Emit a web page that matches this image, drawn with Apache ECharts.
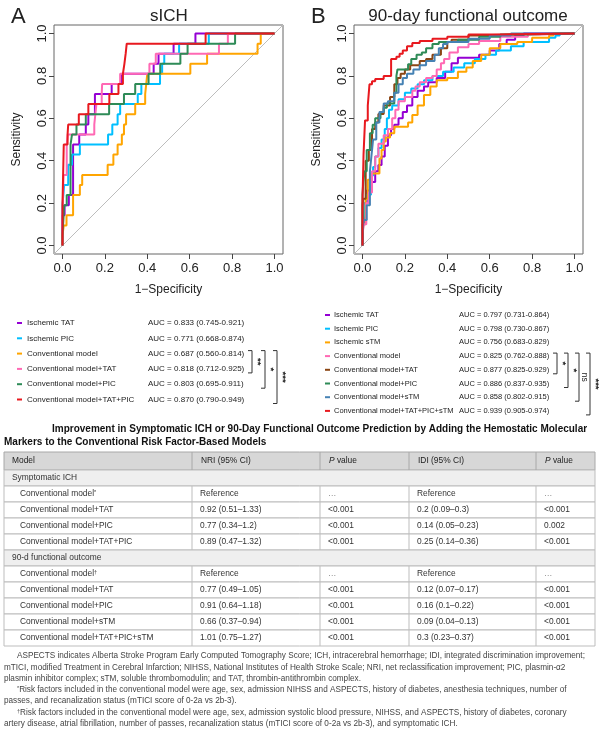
<!DOCTYPE html>
<html><head><meta charset="utf-8">
<script src="https://cdn.jsdelivr.net/npm/echarts@6/dist/echarts.min.js"></script>
<style>html,body{margin:0;padding:0;background:#fff}#c{width:600px;height:729px}</style>
</head><body><div id="c"></div>
<script>
// ---------------- data ----------------
const tickValues = [0, 0.2, 0.4, 0.6, 0.8, 1.0];
const axisMin = -0.04, axisMax = 1.04;

// Panel A (sICH) : ROC points [1-specificity where level ends, sensitivity level]
const aNames = ['Ischemic TAT', 'Ischemic PIC', 'Conventional model', 'Conventional model+TAT', 'Conventional model+PIC', 'Conventional model+TAT+PIC'];
const aAUC = ['AUC = 0.833 (0.745-0.921)', 'AUC = 0.771 (0.668-0.874)', 'AUC = 0.687 (0.560-0.814)', 'AUC = 0.818 (0.712-0.925)', 'AUC = 0.803 (0.695-0.911)', 'AUC = 0.870 (0.790-0.949)'];
const aColors = ['#9400D3', '#00BFFF', '#FFA500', '#FF69B4', '#2E8B57', '#E8191F'];
const aIschemicTAT = [[0,0],[0.01,0.143],[0.03,0.19],[0.05,0.238],[0.079,0.476],[0.11,0.524],[0.122,0.571],[0.153,0.619],[0.232,0.714],[0.28,0.762],[0.43,0.81],[0.453,0.857],[0.524,0.905],[0.627,0.952],[1,1]];
const aIschemicPIC = [[0,0],[0.008,0.19],[0.027,0.286],[0.045,0.381],[0.082,0.429],[0.215,0.476],[0.235,0.524],[0.26,0.571],[0.272,0.619],[0.355,0.667],[0.372,0.714],[0.46,0.762],[0.47,0.81],[0.48,0.857],[0.55,0.905],[0.69,0.952],[1,1]];
const aConv = [[0,0],[0.006,0.048],[0.019,0.095],[0.05,0.143],[0.082,0.238],[0.093,0.286],[0.213,0.333],[0.24,0.381],[0.26,0.429],[0.28,0.476],[0.29,0.524],[0.3,0.571],[0.343,0.619],[0.39,0.667],[0.395,0.714],[0.4,0.762],[0.603,0.81],[0.682,0.857],[0.92,0.905],[0.935,0.952],[1,1]];
const aConvTAT = [[0,0],[0.005,0.143],[0.02,0.333],[0.025,0.476],[0.15,0.524],[0.155,0.571],[0.16,0.619],[0.185,0.667],[0.187,0.714],[0.272,0.762],[0.41,0.81],[0.44,0.857],[0.738,0.905],[0.78,0.952],[1,1]];
const aConvPIC = [[0,0],[0.008,0.048],[0.02,0.19],[0.038,0.238],[0.045,0.476],[0.066,0.524],[0.11,0.571],[0.22,0.619],[0.29,0.667],[0.343,0.714],[0.406,0.762],[0.461,0.81],[0.556,0.857],[0.59,0.905],[0.814,0.952],[1,1]];
const aConvTATPIC = [[0,0],[0.006,0.19],[0.024,0.476],[0.027,0.524],[0.077,0.571],[0.122,0.619],[0.221,0.667],[0.264,0.714],[0.285,0.762],[0.292,0.81],[0.298,0.857],[0.303,0.905],[0.675,0.952],[1,1]];
const aCurves = [aIschemicTAT, aIschemicPIC, aConv, aConvTAT, aConvPIC, aConvTATPIC];

// Panel B (90-day functional outcome)
const bNames = ['Ischemic TAT', 'Ischemic PIC', 'Ischemic sTM', 'Conventional model', 'Conventional model+TAT', 'Conventional model+PIC', 'Conventional model+sTM', 'Conventional model+TAT+PIC+sTM'];
const bAUC = ['AUC = 0.797 (0.731-0.864)', 'AUC = 0.798 (0.730-0.867)', 'AUC = 0.756 (0.683-0.829)', 'AUC = 0.825 (0.762-0.888)', 'AUC = 0.877 (0.825-0.929)', 'AUC = 0.886 (0.837-0.935)', 'AUC = 0.858 (0.802-0.915)', 'AUC = 0.939 (0.905-0.974)'];
const bColors = ['#9400D3', '#00BFFF', '#FFA500', '#FF69B4', '#8B4513', '#2E8B57', '#4682B4', '#E8191F'];
const bIschemicTAT = [[0,0],[0.01,0.1],[0.02,0.2],[0.035,0.26],[0.06,0.3],[0.075,0.35],[0.09,0.38],[0.105,0.42],[0.12,0.47],[0.135,0.52],[0.15,0.55],[0.17,0.57],[0.19,0.6],[0.21,0.63],[0.235,0.66],[0.26,0.7],[0.29,0.73],[0.31,0.75],[0.35,0.77],[0.39,0.79],[0.42,0.82],[0.45,0.86],[0.55,0.885],[0.6,0.9],[0.645,0.92],[0.68,0.95],[0.72,0.97],[0.76,0.99],[1,1]];
const bIschemicPIC = [[0,0],[0.005,0.05],[0.012,0.12],[0.02,0.19],[0.04,0.24],[0.05,0.33],[0.06,0.37],[0.075,0.42],[0.09,0.46],[0.105,0.5],[0.115,0.55],[0.125,0.6],[0.14,0.64],[0.17,0.66],[0.2,0.69],[0.23,0.72],[0.26,0.74],[0.29,0.76],[0.33,0.78],[0.38,0.8],[0.43,0.82],[0.48,0.84],[0.53,0.86],[0.58,0.88],[0.63,0.9],[0.7,0.92],[0.76,0.94],[0.88,0.96],[0.91,0.98],[0.93,0.99],[1,1]];
const bIschemicSTM = [[0,0],[0.004,0.04],[0.015,0.1],[0.025,0.22],[0.04,0.31],[0.08,0.34],[0.09,0.41],[0.1,0.45],[0.11,0.49],[0.13,0.51],[0.15,0.53],[0.215,0.56],[0.235,0.58],[0.26,0.615],[0.29,0.66],[0.32,0.71],[0.35,0.75],[0.4,0.78],[0.45,0.79],[0.49,0.82],[0.52,0.84],[0.56,0.87],[0.6,0.9],[0.65,0.93],[0.73,0.95],[0.8,0.96],[0.88,0.98],[0.9,0.99],[1,1]];
const bConv = [[0,0],[0.006,0.05],[0.018,0.1],[0.03,0.2],[0.045,0.25],[0.06,0.35],[0.075,0.42],[0.1,0.48],[0.12,0.52],[0.14,0.55],[0.155,0.6],[0.17,0.64],[0.2,0.68],[0.235,0.7],[0.25,0.73],[0.27,0.75],[0.3,0.77],[0.33,0.79],[0.35,0.8],[0.37,0.83],[0.385,0.86],[0.41,0.88],[0.45,0.91],[0.5,0.935],[0.55,0.95],[0.65,0.965],[0.78,0.985],[0.83,0.995],[1,1]];
const bConvTAT = [[0,0],[0.004,0.19],[0.015,0.22],[0.03,0.4],[0.045,0.45],[0.06,0.55],[0.075,0.58],[0.1,0.62],[0.13,0.66],[0.15,0.7],[0.165,0.76],[0.18,0.79],[0.2,0.81],[0.225,0.83],[0.27,0.85],[0.3,0.87],[0.33,0.88],[0.37,0.9],[0.4,0.93],[0.42,0.96],[0.5,0.97],[0.62,0.99],[0.7,0.995],[1,1]];
const bConvPIC = [[0,0],[0.004,0.24],[0.01,0.3],[0.02,0.35],[0.035,0.45],[0.048,0.53],[0.06,0.57],[0.085,0.6],[0.1,0.63],[0.115,0.65],[0.15,0.67],[0.16,0.72],[0.165,0.8],[0.215,0.83],[0.23,0.855],[0.255,0.88],[0.28,0.9],[0.3,0.91],[0.33,0.93],[0.36,0.95],[0.45,0.96],[0.55,0.97],[0.65,0.985],[0.75,0.995],[1,1]];
const bConvSTM = [[0,0],[0.005,0.06],[0.02,0.12],[0.035,0.19],[0.042,0.35],[0.05,0.42],[0.065,0.5],[0.08,0.58],[0.1,0.63],[0.12,0.67],[0.15,0.68],[0.17,0.72],[0.19,0.76],[0.21,0.79],[0.24,0.81],[0.27,0.83],[0.3,0.85],[0.34,0.87],[0.36,0.9],[0.38,0.93],[0.4,0.95],[0.5,0.96],[0.6,0.975],[0.7,0.99],[1,1]];
const bConvAll = [[0,0],[0.005,0.21],[0.012,0.43],[0.025,0.59],[0.033,0.66],[0.045,0.76],[0.06,0.775],[0.1,0.785],[0.135,0.8],[0.16,0.88],[0.175,0.89],[0.19,0.905],[0.21,0.92],[0.235,0.94],[0.27,0.955],[0.33,0.965],[0.4,0.975],[0.5,0.985],[0.61,0.995],[1,1]];
const bCurves = [bIschemicTAT, bIschemicPIC, bIschemicSTM, bConv, bConvTAT, bConvPIC, bConvSTM, bConvAll];

// significance brackets: [from row, to row, label]
const aBrackets = [[2, 3, '**'], [2, 4, '*'], [2, 5, '***']];
const bBrackets = [[3, 4, '*'], [3, 5, '*'], [3, 6, 'ns'], [3, 7, '***']];

// table
const tableTitle1 = 'Improvement in Symptomatic ICH or 90-Day Functional Outcome Prediction by Adding the Hemostatic Molecular';
const tableTitle2 = 'Markers to the Conventional Risk Factor-Based Models';
const tableHeader = ['Model', 'NRI (95% CI)', '{i|P}{n| value}', 'IDI (95% CI)', '{i|P}{n| value}'];
const tableRows = [
  ['section', 'Symptomatic ICH'],
  ['row', 'Conventional model{s|*}', 'Reference', '...', 'Reference', '...'],
  ['row', 'Conventional model+TAT', '0.92 (0.51–1.33)', '<0.001', '0.2 (0.09–0.3)', '<0.001'],
  ['row', 'Conventional model+PIC', '0.77 (0.34–1.2)', '<0.001', '0.14 (0.05–0.23)', '0.002'],
  ['row', 'Conventional model+TAT+PIC', '0.89 (0.47–1.32)', '<0.001', '0.25 (0.14–0.36)', '<0.001'],
  ['section', '90-d functional outcome'],
  ['row', 'Conventional model{s|†}', 'Reference', '...', 'Reference', '...'],
  ['row', 'Conventional model+TAT', '0.77 (0.49–1.05)', '<0.001', '0.12 (0.07–0.17)', '<0.001'],
  ['row', 'Conventional model+PIC', '0.91 (0.64–1.18)', '<0.001', '0.16 (0.1–0.22)', '<0.001'],
  ['row', 'Conventional model+sTM', '0.66 (0.37–0.94)', '<0.001', '0.09 (0.04–0.13)', '<0.001'],
  ['row', 'Conventional model+TAT+PIC+sTM', '1.01 (0.75–1.27)', '<0.001', '0.3 (0.23–0.37)', '<0.001']
];
const footLines = [
  [1, 'ASPECTS indicates Alberta Stroke Program Early Computed Tomography Score; ICH, intracerebral hemorrhage; IDI, integrated discrimination improvement;'],
  [0, 'mTICI, modified Treatment in Cerebral Infarction; NIHSS, National Institutes of Health Stroke Scale; NRI, net reclassification improvement; PIC, plasmin-α2'],
  [0, 'plasmin inhibitor complex; sTM, soluble thrombomodulin; and TAT, thrombin-antithrombin complex.'],
  [1, '{s|*}Risk factors included in the conventional model were age, sex, admission NIHSS and ASPECTS, history of diabetes, anesthesia techniques, number of'],
  [0, 'passes, and recanalization status (mTICI score of 0-2a vs 2b-3).'],
  [1, '{s|†}Risk factors included in the conventional model were age, sex, admission systolic blood pressure, NIHSS, and ASPECTS, history of diabetes, coronary'],
  [0, 'artery disease, atrial fibrillation, number of passes, recanalization status (mTICI score of 0-2a vs 2b-3), and symptomatic ICH.']
];

// ---------------- layout / style ----------------
const FF = '"Liberation Sans", Arial, Helvetica, sans-serif';
const grids = [{left: 54, top: 25, width: 229, height: 229}, {left: 354, top: 25, width: 229, height: 229}];

function xAx(i) {
  return {
    type: 'value', gridIndex: i, min: axisMin, max: axisMax, position: 'bottom',
    axisLine: {show: false, onZero: false},
    axisTick: {show: true, inside: false, customValues: tickValues, length: 5, lineStyle: {color: '#444', width: 1}},
    axisLabel: {customValues: tickValues, formatter: v => v.toFixed(1), fontSize: 13, color: '#222', margin: 8, fontFamily: FF},
    splitLine: {show: false},
    name: '1−Specificity', nameLocation: 'middle', nameGap: 30,
    nameTextStyle: {fontSize: 12, color: '#222', fontFamily: FF}
  };
}
function yAx(i) {
  return {
    type: 'value', gridIndex: i, min: axisMin, max: axisMax, position: 'left',
    axisLine: {show: false, onZero: false},
    axisTick: {show: true, inside: false, customValues: tickValues, length: 5, lineStyle: {color: '#444', width: 1}},
    axisLabel: {customValues: tickValues, formatter: v => v.toFixed(1), fontSize: 13, color: '#222', margin: 5, rotate: 90, fontFamily: FF},
    splitLine: {show: false},
    name: 'Sensitivity', nameLocation: 'middle', nameGap: 31,
    nameTextStyle: {fontSize: 12, color: '#222', fontFamily: FF}
  };
}

const series = [];
[0, 1].forEach(g => {
  series.push({
    type: 'line', xAxisIndex: g, yAxisIndex: g, data: [[axisMin, axisMin], [axisMax, axisMax]],
    showSymbol: false, symbol: 'none', silent: true, lineStyle: {color: '#bdbdbd', width: 1}, z: 1
  });
});
aCurves.forEach((d, i) => series.push({
  type: 'line', xAxisIndex: 0, yAxisIndex: 0, data: d, step: 'start', symbol: 'none', showSymbol: false,
  silent: true, lineStyle: {color: aColors[i], width: 2}, z: 2 + i
}));
bCurves.forEach((d, i) => series.push({
  type: 'line', xAxisIndex: 1, yAxisIndex: 1, data: d, step: 'start', symbol: 'none', showSymbol: false,
  silent: true, lineStyle: {color: bColors[i], width: 2}, z: 2 + i
}));

const G = [];
function txt(x, y, text, o) {
  o = o || {};
  const el = {type: 'text', x: x, y: y, silent: true, z: 10,
    style: {text: text, fill: o.fill || '#222', fontSize: o.size || 8, fontFamily: FF, fontWeight: o.weight || 'normal',
      align: o.align || 'left', verticalAlign: o.valign || 'middle'}};
  if (o.rich) el.style.rich = o.rich;
  if (o.rotation) el.rotation = o.rotation;
  G.push(el);
}
function line(pts, color, w) {
  G.push({type: 'polyline', silent: true, z: 10, shape: {points: pts}, style: {stroke: color, lineWidth: w || 1, fill: null}});
}
function rect(x, y, w, h, fill, stroke) {
  G.push({type: 'rect', silent: true, z: 5, shape: {x: x, y: y, width: w, height: h}, style: {fill: fill, stroke: stroke || null, lineWidth: 1}});
}

// panel titles and letters
txt(11, 17, 'A', {size: 22});
txt(311, 17, 'B', {size: 22});
txt(169, 16, 'sICH', {size: 17, align: 'center'});
txt(468, 16, '90-day functional outcome', {size: 17, align: 'center'});

// legends
function legend(names, aucs, colors, brackets, o) {
  names.forEach((n, i) => {
    const y = o.y0 + i * o.dy;
    line([[o.dashX, y], [o.dashX + 5, y]], colors[i], 2);
    txt(o.textX, y, n, {size: o.size});
    txt(o.aucX, y, aucs[i], {size: o.size});
  });
  brackets.forEach((b, k) => {
    const y1 = o.y0 + b[0] * o.dy - 3, y2 = o.y0 + b[1] * o.dy + 4, x = o.bx[k];
    line([[x - 4, y1], [x, y1], [x, y2], [x - 4, y2]], '#333', 1);
    txt(x + 5.5, (y1 + y2) / 2, b[2], {size: b[2] === 'ns' ? 8.5 : 9.5, align: 'center', rotation: -Math.PI / 2, weight: b[2] === 'ns' ? 'normal' : 'bold'});
  });
}
legend(aNames, aAUC, aColors, aBrackets, {y0: 323, dy: 15.3, dashX: 17, textX: 27, aucX: 148, size: 8.0, bx: [252, 265, 277]});
legend(bNames, bAUC, bColors, bBrackets, {y0: 315, dy: 13.7, dashX: 325, textX: 334, aucX: 459, size: 7.5, bx: [557, 568, 579, 590]});

// table title
txt(52, 429, tableTitle1, {size: 10, weight: 'bold', fill: '#111'});
txt(4, 442, tableTitle2, {size: 10, weight: 'bold', fill: '#111'});

// table
const colX = [4, 192, 320, 409, 536, 595];
const tTop = 452, hH = 18, rH = 16;
const tSize = 8.4;
const richT = {i: {fontStyle: 'italic', fontSize: tSize, fontFamily: FF, fill: '#222'}, n: {fontSize: tSize, fontFamily: FF, fill: '#222'}, s: {fontSize: 5.5, fontFamily: FF, fill: '#333', verticalAlign: 'top', padding: [0, 0, 4, 0]}};
rect(colX[0], tTop, colX[5] - colX[0], hH, '#d7d7d7', '#a8a8a8');
tableHeader.forEach((h, c) => {
  if (c > 0) line([[colX[c], tTop], [colX[c], tTop + hH]], '#a8a8a8', 1);
  txt(colX[c] + (c === 0 ? 8 : 9), tTop + hH / 2, h, {size: tSize, rich: richT});
});
tableRows.forEach((r, i) => {
  const y = tTop + hH + i * rH;
  if (r[0] === 'section') {
    rect(colX[0], y, colX[5] - colX[0], rH, '#efefef', '#bdbdbd');
    txt(colX[0] + 8, y + rH / 2, r[1], {size: tSize, fill: '#333'});
  } else {
    rect(colX[0], y, colX[5] - colX[0], rH, '#ffffff', '#bdbdbd');
    for (let c = 1; c < 5; c++) line([[colX[c], y], [colX[c], y + rH]], '#bdbdbd', 1);
    for (let c = 0; c < 5; c++) {
      const t = r[c + 1];
      const ell = t === '...';
      txt(colX[c] + (c === 0 ? 16 : 8), y + rH / 2, ell ? '…' : t, {size: tSize, fill: ell ? '#888' : '#333', rich: c === 0 ? richT : null});
    }
  }
});

// footnotes
const fTop = tTop + hH + tableRows.length * rH + 10;
const richF = {s: {fontSize: 5.5, fontFamily: FF, fill: '#444', verticalAlign: 'top', padding: [0, 0, 3, 0]}};
footLines.forEach((f, i) => {
  txt(f[0] ? 17 : 4, fTop + i * 11.3, f[1], {size: 8.2, fill: '#444', rich: richF});
});

const option = {
  animation: false,
  backgroundColor: '#ffffff',
  grid: grids.map(g => Object.assign({show: true, borderColor: '#666', borderWidth: 1, backgroundColor: 'transparent'}, g)),
  xAxis: [xAx(0), xAx(1)],
  yAxis: [yAx(0), yAx(1)],
  series: series,
  graphic: {elements: G}
};
const chart = echarts.init(document.getElementById('c'));
chart.setOption(option);
</script>
</body></html>
